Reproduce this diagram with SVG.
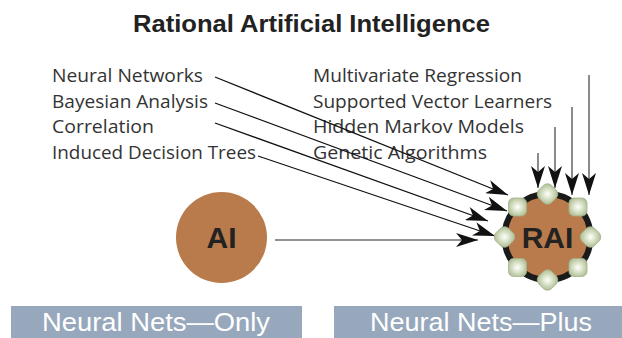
<svg xmlns="http://www.w3.org/2000/svg" width="622" height="338" viewBox="0 0 622 338">
  <style>
    .title { font-family: "Liberation Sans", Arial, sans-serif; font-weight: bold; font-size: 24px; fill: #222; }
    .label { font-family: "Open Sans", "Liberation Sans", sans-serif; font-size: 18.5px; fill: #333; }
    .node-text { font-family: "Liberation Sans", Arial, sans-serif; font-weight: bold; font-size: 30px; fill: #222; text-anchor: middle; }
    .bar { fill: #97a8bd; }
    .bar-text { font-family: "Liberation Sans", Arial, sans-serif; font-size: 26px; fill: #fff; }
    .edge { fill: none; stroke: #111; stroke-width: 1.3; marker-end: url(#head); }
    .edge-gray { fill: none; stroke: #6e6e6e; stroke-width: 1.6; marker-end: url(#head); }
    .brown { fill: #b97b4b; }
    .bead { fill: url(#beadFill); stroke: #a3b28b; stroke-width: 0.8; }
  </style>
  <defs>
    <marker id="head" markerUnits="userSpaceOnUse" markerWidth="24" markerHeight="14" refX="22" refY="7" orient="auto">
      <path d="M0,0 L22,7 L0,14 L6,7 Z" fill="#111"/>
    </marker>
    <radialGradient id="beadFill" cx="0.5" cy="0.5" r="0.62">
      <stop offset="0" stop-color="#ffffff"/>
      <stop offset="0.4" stop-color="#dde5cc"/>
      <stop offset="1" stop-color="#a7b78c"/>
    </radialGradient>
  </defs>

  <rect width="622" height="338" fill="#fff"/>

  <text class="title" x="133" y="32" textLength="357" lengthAdjust="spacingAndGlyphs">Rational Artificial Intelligence</text>

  <g id="labels-left">
    <text class="label" x="52" y="82" textLength="151" lengthAdjust="spacingAndGlyphs">Neural Networks</text>
    <text class="label" x="52" y="108" textLength="156" lengthAdjust="spacingAndGlyphs">Bayesian Analysis</text>
    <text class="label" x="52" y="133" textLength="102" lengthAdjust="spacingAndGlyphs">Correlation</text>
    <text class="label" x="52" y="159" textLength="204" lengthAdjust="spacingAndGlyphs">Induced Decision Trees</text>
  </g>
  <g id="labels-right">
    <text class="label" x="313" y="82" textLength="209" lengthAdjust="spacingAndGlyphs">Multivariate Regression</text>
    <text class="label" x="313" y="108" textLength="239" lengthAdjust="spacingAndGlyphs">Supported Vector Learners</text>
    <text class="label" x="313" y="133" textLength="211" lengthAdjust="spacingAndGlyphs">Hidden Markov Models</text>
    <text class="label" x="313" y="159" textLength="174" lengthAdjust="spacingAndGlyphs">Genetic Algorithms</text>
  </g>

  <g id="connectors">
    <line class="edge" x1="215" y1="77" x2="508" y2="195"/>
    <line class="edge" x1="215" y1="103" x2="507" y2="211"/>
    <line class="edge" x1="215" y1="123" x2="488" y2="221"/>
    <line class="edge" x1="258" y1="156" x2="495" y2="236"/>
    <line class="edge-gray" x1="275" y1="240" x2="478" y2="240"/>
    <line class="edge-gray" x1="538" y1="153" x2="538" y2="188"/>
    <line class="edge-gray" x1="555" y1="127" x2="555" y2="188"/>
    <line class="edge-gray" x1="572" y1="107" x2="572" y2="195"/>
    <line class="edge-gray" x1="589" y1="75" x2="589" y2="195"/>
  </g>

  <g id="node-ai">
    <circle class="brown" cx="221.5" cy="237.5" r="45.5"/>
    <text class="node-text" x="221.5" y="248">AI</text>
  </g>

  <g id="node-rai">
    <circle class="brown" cx="547.5" cy="237" r="43" stroke="#1a1a1a" stroke-width="6"/>
    <text class="node-text" x="547.5" y="248">RAI</text>
    <rect class="bead" x="538.5" y="185" width="18" height="18" rx="6" transform="rotate(45 547.5 194)"/>
    <rect class="bead" x="581.5" y="228" width="18" height="18" rx="6" transform="rotate(45 590.5 237)"/>
    <rect class="bead" x="538.5" y="271" width="18" height="18" rx="6" transform="rotate(45 547.5 280)"/>
    <rect class="bead" x="495.5" y="228" width="18" height="18" rx="6" transform="rotate(45 504.5 237)"/>
    <rect class="bead" x="569" y="198" width="18" height="18" rx="5"/>
    <rect class="bead" x="569" y="258.5" width="18" height="18" rx="5"/>
    <rect class="bead" x="508.5" y="258.5" width="18" height="18" rx="5"/>
    <rect class="bead" x="508.5" y="198" width="18" height="18" rx="5"/>
  </g>

  <g id="bar-left">
    <rect class="bar" x="11" y="306" width="291" height="32"/>
    <text class="bar-text" x="42" y="331" textLength="228" lengthAdjust="spacingAndGlyphs">Neural Nets—Only</text>
  </g>
  <g id="bar-right">
    <rect class="bar" x="334" y="306" width="288" height="32"/>
    <text class="bar-text" x="370" y="331" textLength="222" lengthAdjust="spacingAndGlyphs">Neural Nets—Plus</text>
  </g>
</svg>
